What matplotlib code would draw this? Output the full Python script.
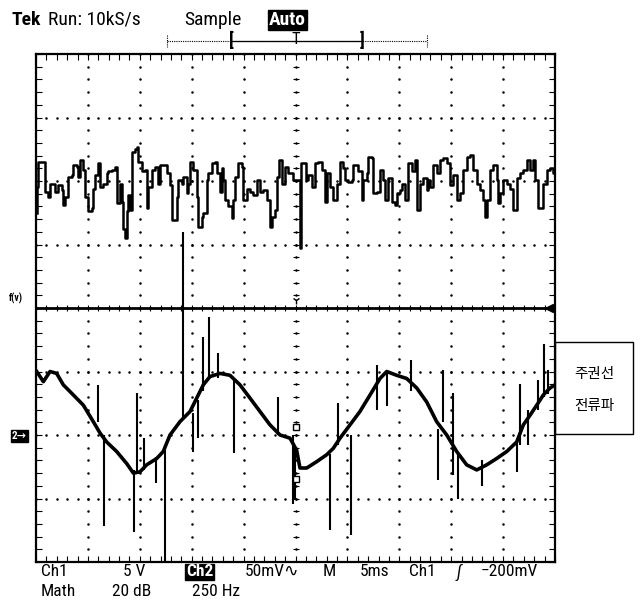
import numpy as np
import matplotlib.pyplot as plt
from matplotlib import font_manager
from matplotlib.patches import Rectangle

# time in ms (5 ms/div, 10 div), traces in screen divisions (-4..4)
ch1_t = [0.06, 0.13, 0.22, 0.71, 0.87, 1.19, 1.35, 1.83, 2.15, 2.47, 2.63, 2.79, 3.11, 3.44, 3.60,
         3.92, 4.08, 4.24, 4.56, 4.72, 5.04, 5.36, 5.52, 5.68, 6.00, 6.17, 6.49, 6.81, 6.97, 7.29,
         7.61, 7.77, 8.09, 8.26, 8.42, 8.57, 8.74, 8.90, 9.06, 9.22, 9.54, 9.70, 9.86, 10.18, 10.50,
         10.67, 10.82, 11.15, 11.47, 11.79, 11.95, 12.43, 12.59, 12.91, 13.07, 13.39, 13.55, 13.71,
         14.04, 14.19, 14.52, 14.67, 14.84, 15.15, 15.48, 15.64, 15.96, 16.12, 16.45, 16.60, 16.93,
         17.25, 17.41, 17.73, 17.89, 18.04, 18.21, 18.53, 18.85, 19.01, 19.17, 19.49, 19.82, 19.97,
         20.30, 20.62, 20.94, 21.26, 21.58, 21.90, 22.22, 22.54, 22.71, 23.03, 23.19, 23.44, 23.67,
         23.99, 24.31, 24.79, 25.11, 25.37, 25.43, 25.50, 25.92, 26.01, 26.24, 26.56, 26.88, 27.20,
         27.52, 27.84, 28.01, 28.32, 28.64, 28.97, 29.29, 29.61, 29.77, 30.09, 30.41, 30.57, 30.90,
         31.05, 31.38, 31.53, 31.86, 32.01, 32.34, 32.50, 32.82, 33.14, 33.46, 33.62, 33.94, 34.27,
         34.59, 34.75, 35.07, 35.23, 35.55, 35.87, 36.19, 36.51, 36.68, 36.99, 37.31, 37.64, 37.79,
         37.96, 38.28, 38.60, 38.92, 39.24, 39.57, 39.88, 40.20, 40.53, 40.85, 41.17, 41.49, 41.81,
         42.13, 42.46, 42.78, 43.09, 43.26, 43.42, 43.74, 44.06, 44.38, 44.54, 44.70, 45.02, 45.35,
         45.67, 45.98, 46.31, 46.63, 46.95, 47.27, 47.59, 47.91, 48.07, 48.39, 48.72, 48.87, 49.20,
         49.52, 49.84, 50.0]
ch1_v = [1.49, 1.91, 2.30, 2.30, 1.83, 1.75, 1.96, 1.83, 1.94, 1.86, 1.62, 1.75, 2.07, 2.09, 2.25,
         2.22, 2.07, 2.33, 2.17, 1.75, 1.52, 1.57, 1.88, 2.09, 2.28, 1.91, 1.96, 2.12, 2.15, 2.17,
         2.22, 1.65, 1.96, 1.67, 1.25, 1.10, 1.52, 1.78, 1.54, 2.46, 2.51, 2.54, 2.30, 2.15, 2.17,
         1.57, 1.91, 2.17, 2.22, 1.96, 2.25, 2.25, 2.12, 1.94, 1.39, 1.39, 1.75, 2.02,
         1.96, 2.07, 1.81, 1.96, 2.30, 2.17, 1.75, 1.28, 1.44, 1.49, 2.02, 2.12, 2.28,
         2.30, 2.12, 1.83, 2.20, 2.02, 1.70, 1.60, 1.41, 1.70, 2.07, 2.28, 2.22, 1.70,
         1.88, 1.83, 1.78, 2.02, 1.83, 1.86, 1.70, 1.28, 1.44, 1.54, 2.07, 2.33, 1.96,
         2.22, 2.12, 2.02, 2.02, 2.02, 0.94, 2.28, 2.28, 2.02, 2.09, 1.91, 2.28, 2.30,
         2.17, 1.67, 2.12, 1.91, 1.70, 1.96, 2.30, 2.20, 2.02, 1.99, 2.02, 2.25, 2.25,
         2.15, 1.70, 2.02, 2.12, 2.38, 2.36, 1.81, 1.83, 2.17, 2.02, 1.70, 2.04, 1.67,
         1.62, 1.81, 1.86, 1.96, 1.70, 2.28, 2.15, 2.33, 1.54, 1.96, 2.04, 1.86, 2.02,
         1.91, 2.25, 2.12, 2.33, 2.36, 2.28, 1.94, 2.09, 1.70, 1.81, 2.17, 2.38, 2.41,
         2.17, 1.96, 1.86, 1.70, 1.44, 1.70, 2.17, 2.25, 2.02, 1.65, 1.81, 2.02, 1.96,
         1.88, 1.54, 2.04, 2.12, 2.17, 2.33, 2.17, 2.33, 2.02, 1.57, 1.57, 1.96, 2.17,
         2.20, 2.12, 1.91]

ch2_t = [0.07, 0.71, 1.35, 1.99, 2.63, 3.60, 4.56, 5.52, 6.17, 6.81, 7.77, 8.74, 9.38, 10.02, 10.66,
         11.63, 12.26, 12.91, 13.87, 14.84, 15.48, 16.12, 16.76, 17.73, 18.69, 19.65, 20.62, 21.58,
         22.54, 23.51, 24.47, 25.11, 25.43, 26.08, 27.04, 28.01, 28.64, 29.29, 30.25, 31.21, 32.18,
         33.14, 33.79, 34.75, 35.71, 36.68, 37.64, 38.60, 39.57, 40.53, 41.49, 42.46, 43.42, 44.38,
         45.35, 46.31, 46.95, 47.59, 48.24, 48.87, 49.52, 50.0]
ch2_v = [-1.00, -1.16, -1.00, -1.03, -1.21, -1.37, -1.53, -1.79, -1.97, -2.11, -2.26, -2.45, -2.60,
         -2.58, -2.47, -2.37, -2.26, -2.00, -1.79, -1.63, -1.42, -1.21, -1.08, -1.03, -1.06, -1.21,
         -1.42, -1.63, -1.84, -2.00, -2.05, -2.24, -2.52, -2.52, -2.42, -2.31, -2.21, -2.05, -1.84,
         -1.63, -1.37, -1.11, -1.00, -1.06, -1.11, -1.26, -1.48, -1.79, -2.00, -2.26, -2.47, -2.55,
         -2.47, -2.37, -2.26, -2.11, -1.84, -1.69, -1.53, -1.37, -1.26, -1.21]

# switching spikes on ch2: time, low end, high end
spike_t = [6.00, 6.55, 9.44, 9.70, 10.44, 11.56, 12.43, 14.13, 15.16, 15.64, 16.12, 16.67, 17.57,
           19.08, 23.35, 24.79, 24.95, 28.32, 29.12, 30.31, 32.88, 33.85, 36.10, 38.76, 39.18, 40.21,
           40.69, 42.94, 46.31, 46.63, 47.43, 48.39, 48.94, 49.35]
spike_lo = [-1.80, -3.44, -3.52, -2.60, -2.55, -2.76, -4.00, -1.73, -2.26, -2.05, -1.30, -1.10, -1.10,
            -2.29, -2.00, -3.08, -3.00, -3.50, -2.15, -3.57, -1.60, -1.55, -1.30, -2.71, -1.80, -2.63,
            -3.00, -2.81, -2.58, -2.15, -2.16, -1.60, -1.40, -1.35]
spike_hi = [-1.21, -2.00, -2.55, -1.34, -2.05, -2.35, -2.16, 1.20, -1.65, -1.45, -0.45, -0.14, -0.71,
            -1.10, -1.40, -2.00, -2.20, -2.30, -1.50, -2.00, -0.90, -1.00, -0.82, -1.90, -0.98, -1.34,
            -2.30, -2.40, -2.10, -1.19, -1.60, -1.13, -0.56, -0.98]

math_t = [0, 50]
math_v = [0, 0]

installed = {f.name for f in font_manager.fontManager.ttflist}
narrow = [f for f in ['Liberation Sans Narrow', 'DejaVu Sans Condensed', 'Roboto Condensed',
                      'Open Sans Condensed'] if f in installed]
if narrow:
    plt.rcParams['font.family'] = [narrow[0], 'DejaVu Sans']
    fs, fs2 = 14, 12.5
else:
    plt.rcParams['font.family'] = ['DejaVu Sans']
    fs, fs2 = 11.5, 10.5

fig = plt.figure(figsize=(6.4, 6.0), dpi=100)
ax = fig.add_axes([36 / 640, 38 / 600, 519 / 640, 508 / 600])
ax.set_xlim(0, 50)
ax.set_ylim(-4, 4)

# dotted graticule
for gx in np.arange(5, 50, 5):
    gy = np.arange(-4, 4.01, 0.2)
    ax.plot(np.full_like(gy, gx), gy, ls='none', marker='.', ms=1.6, color='black')
for gy in range(-3, 4):
    gx = np.arange(0, 50.01, 1)
    ax.plot(gx, np.full_like(gx, gy), ls='none', marker='.', ms=1.6, color='black')
cy = np.arange(-4, 4.01, 0.2)
ax.plot(np.full_like(cy, 25), cy, ls='none', marker='_', ms=5, mew=0.8, color='black')
cx = np.arange(0, 50.01, 1)
ax.plot(cx, np.zeros_like(cx), ls='none', marker='|', ms=5, mew=0.8, color='black')

ax.set_xticks(np.arange(0, 51, 5))
ax.set_xticks(np.arange(0, 51, 1), minor=True)
ax.set_yticks(np.arange(-4, 5, 1))
ax.set_yticks(np.arange(-4, 4.01, 0.2), minor=True)
ax.tick_params(which='both', direction='in', top=True, right=True, length=4, width=0.8,
               labelbottom=False, labelleft=False)
for s in ax.spines.values():
    s.set_linewidth(1.6)

ax.plot(ch1_t, ch1_v, color='black', lw=1.8, drawstyle='steps-post')
ax.plot(math_t, math_v, color='black', lw=2.0)
ax.plot(ch2_t, ch2_v, color='black', lw=2.6)
ax.vlines(spike_t, spike_lo, spike_hi, color='black', lw=1.5)

ax.plot([25, 25], [-1.87, -2.70], ls='none', marker='s', ms=5, mfc='white', mec='black', mew=1)
ax.plot([25], [0.12], marker='1', ms=6, color='black')
ax.plot([49.4], [0], marker='<', ms=6, color='black', clip_on=False)

# header
hy = 1 - 20 / 600
fig.text(12 / 640, hy, 'Tek', fontsize=fs, fontweight='bold', va='center')
fig.text(48 / 640, hy, 'Run: 10kS/s', fontsize=fs, va='center')
fig.text(184 / 640, hy, 'Sample', fontsize=fs, va='center')
fig.text(269 / 640, hy, 'Auto', fontsize=fs, va='center', color='white', fontweight='bold',
         bbox=dict(boxstyle='square,pad=0.05', fc='black', ec='black'))
by = 1 - 41 / 600
fig.add_artist(plt.Line2D([167 / 640, 427 / 640], [by] * 2, color='black', lw=0.8, ls=(0, (1, 1))))
fig.add_artist(plt.Line2D([167 / 640] * 2, [by + 6 / 600, by - 6 / 600], color='black', lw=0.8, ls=(0, (1, 1))))
fig.add_artist(plt.Line2D([427 / 640] * 2, [by + 6 / 600, by - 6 / 600], color='black', lw=0.8, ls=(0, (1, 1))))
fig.add_artist(plt.Line2D([231 / 640, 362 / 640], [by] * 2, color='black', lw=0.9))
fig.text(231 / 640, by, '[', fontsize=13, fontweight='bold', ha='center', va='center')
fig.text(296 / 640, by + 1 / 600, 'T', fontsize=12, ha='center', va='center')
fig.text(362 / 640, by, ']', fontsize=13, fontweight='bold', ha='center', va='center')

# channel markers
fig.text(9 / 640, 1 - 298 / 600, 'f(v)', fontsize=7, fontweight='bold', va='center')
fig.text(12 / 640, 1 - 436 / 600, '2\u2192', fontsize=8, fontweight='bold', color='white', va='center',
         bbox=dict(boxstyle='square,pad=0.1', fc='black', ec='black'))

# footer
y1 = 1 - 572 / 600
y2 = 1 - 591 / 600
fig.text(41 / 640, y1, 'Ch1', fontsize=fs2, va='center')
fig.text(123 / 640, y1, '5 V', fontsize=fs2, va='center')
fig.text(186 / 640, y1, 'Ch2', fontsize=fs2, va='center', color='white', fontweight='bold',
         bbox=dict(boxstyle='square,pad=0.05', fc='black', ec='black'))
fig.text(245 / 640, y1, '50mV\u223f', fontsize=fs2, va='center')
fig.text(323 / 640, y1, 'M', fontsize=fs2, va='center')
fig.text(360 / 640, y1, '5ms', fontsize=fs2, va='center')
fig.text(409 / 640, y1, 'Ch1', fontsize=fs2, va='center')
fig.text(457 / 640, y1, '\u222b', fontsize=fs2, va='center', fontstyle='italic')
fig.text(481 / 640, y1, '\u2212200mV', fontsize=fs2, va='center')
fig.text(41 / 640, y2, 'Math', fontsize=fs2, va='center')
fig.text(112 / 640, y2, '20 dB', fontsize=fs2, va='center')
fig.text(192 / 640, y2, '250 Hz', fontsize=fs2, va='center')

# annotation box
fig.add_artist(Rectangle((555 / 640, 1 - 434 / 600), 78 / 640, 92 / 600, transform=fig.transFigure,
                         fill=False, ec='black', lw=1.0))
fig.text(594 / 640, 1 - 374 / 600, '주권선', fontsize=10.5, ha='center', va='center',
         family=['Noto Sans CJK KR', 'DejaVu Sans'])
fig.text(594 / 640, 1 - 406 / 600, '전류파', fontsize=10.5, ha='center', va='center',
         family=['Noto Sans CJK KR', 'DejaVu Sans'])

fig.savefig('out.png', dpi=100)
